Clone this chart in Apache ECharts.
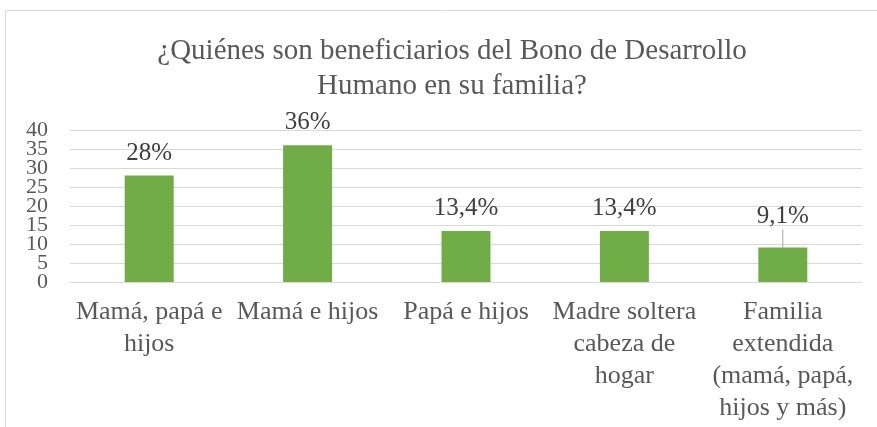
<!DOCTYPE html>
<html lang="es">
<head>
    <meta charset="UTF-8">
    <title>Bono de Desarrollo Humano</title>
    <style>
        html, body { margin: 0; padding: 0; background: #fff; }
        #chart { width: 877px; height: 427px; }
    </style>
</head>
<body>
<div id="chart"></div>
<script src="https://cdn.jsdelivr.net/npm/echarts@6/dist/echarts.min.js"></script>
<script>
    var categories = ['Mamá, papá e\nhijos', 'Mamá e hijos', 'Papá e hijos', 'Madre soltera\ncabeza de\nhogar', 'Familia\nextendida\n(mamá, papá,\nhijos y más)'];
    var values = [28, 36, 13.4, 13.4, 9.1];
    var valueLabels = ['28%', '36%', '13,4%', '13,4%', '9,1%'];
    // las etiquetas del eje Y van en dos ejes para que no se oculten por solaparse
    var yTicksA = [0, 10, 20, 30, 40];
    var yTicksB = [5, 15, 25, 35];

    var serif = '"Liberation Serif", "DejaVu Serif", serif';
    var chart = echarts.init(document.getElementById('chart'));

    // la ultima etiqueta va un poco mas arriba con linea guia
    var barData = values.map(function (v, i) {
        var item = { value: v };
        if (i === values.length - 1) {
            item.labelLine = { show: true, lineStyle: { color: '#a6a6a6', width: 1 } };
        }
        return item;
    });

    var yLabel = {
        margin: 22,
        fontFamily: serif,
        fontSize: 22,
        color: '#595959'
    };

    var option = {
        animation: false,
        title: {
            text: '¿Quiénes son beneficiarios del Bono de Desarrollo\nHumano en su familia?',
            left: 447,
            top: 29,
            textAlign: 'center',
            textStyle: {
                fontFamily: serif,
                fontSize: 29,
                fontWeight: 'normal',
                color: '#595959',
                lineHeight: 35
            }
        },
        graphic: [{
            type: 'rect',
            shape: { x: 5.5, y: 10.5, width: 900, height: 500 },
            style: { fill: 'none', stroke: '#d9d9d9', lineWidth: 1 }
        }],
        grid: {
            left: 70,
            right: 15,
            top: 130,
            bottom: 145
        },
        xAxis: {
            type: 'category',
            data: categories,
            axisTick: { show: false },
            axisLine: { lineStyle: { color: '#d9d9d9' } },
            axisLabel: {
                interval: 0,
                margin: 14,
                fontFamily: serif,
                fontSize: 26,
                color: '#595959',
                lineHeight: 32
            }
        },
        yAxis: [{
            type: 'value',
            position: 'left',
            min: 0,
            max: 40,
            interval: 5,
            axisLine: { show: false },
            axisTick: { show: false },
            splitLine: { lineStyle: { color: '#d9d9d9' } },
            axisLabel: Object.assign({ customValues: yTicksA }, yLabel)
        }, {
            type: 'value',
            position: 'left',
            offset: 0,
            min: 0,
            max: 40,
            interval: 5,
            axisLine: { show: false },
            axisTick: { show: false },
            splitLine: { show: false },
            axisLabel: Object.assign({ customValues: yTicksB }, yLabel)
        }],
        series: [{
            type: 'bar',
            data: barData,
            barWidth: 49,
            itemStyle: { color: '#70ad47' },
            label: {
                show: true,
                position: 'top',
                distance: 10,
                fontFamily: serif,
                fontSize: 25,
                color: '#404040',
                formatter: function (p) { return valueLabels[p.dataIndex]; }
            },
            labelLayout: function (p) {
                if (p.dataIndex === values.length - 1) {
                    return { dy: -8 };
                }
                return {};
            }
        }]
    };
    chart.setOption(option);
</script>
</body>
</html>
